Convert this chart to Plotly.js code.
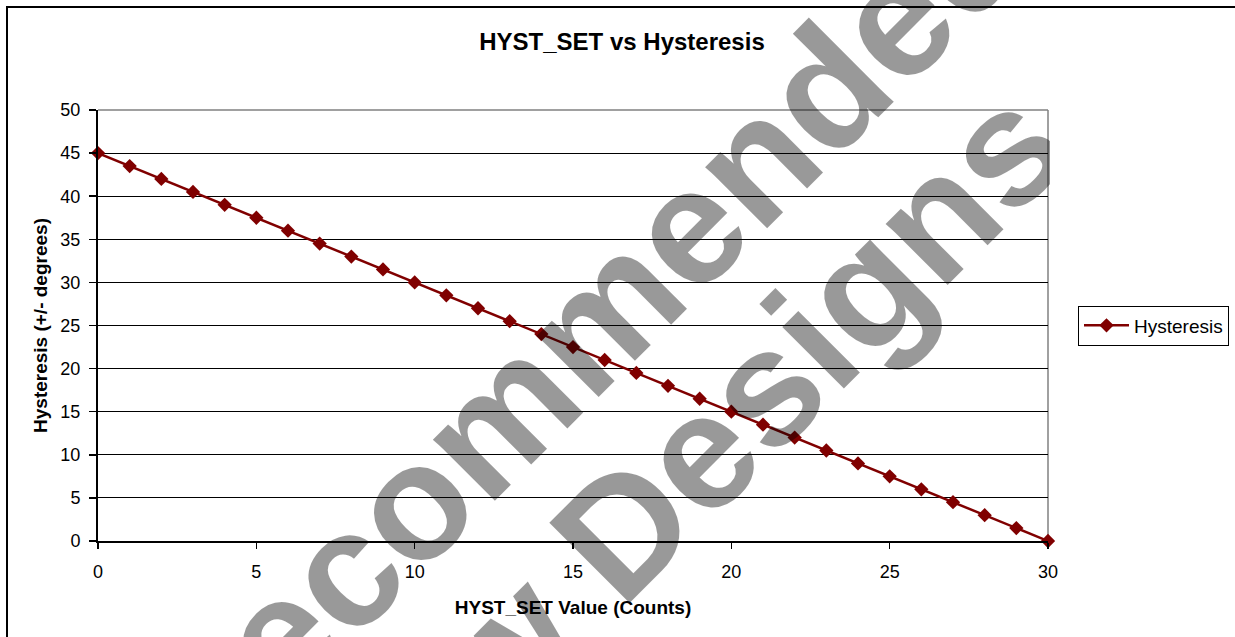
<!DOCTYPE html>
<html>
<head>
<meta charset="utf-8">
<script src="https://cdn.plot.ly/plotly-3.0.1.min.js"></script>
<style>
  html, body { margin: 0; padding: 0; background: #ffffff; }
  #chart { width: 1235px; height: 637px; }
</style>
</head>
<body>
<div id="chart"></div>
<script>
// ---- data ----
const hystSet = [0, 1, 2, 3, 4, 5, 6, 7, 8, 9, 10, 11, 12, 13, 14, 15, 16, 17, 18, 19, 20, 21, 22, 23, 24, 25, 26, 27, 28, 29, 30];
const hysteresis = [45, 43.5, 42, 40.5, 39, 37.5, 36, 34.5, 33, 31.5, 30, 28.5, 27, 25.5, 24, 22.5, 21, 19.5, 18, 16.5, 15, 13.5, 12, 10.5, 9, 7.5, 6, 4.5, 3, 1.5, 0];
const seriesName = "Hysteresis";
const chartTitle = "HYST_SET vs Hysteresis";
const xTitle = "HYST_SET Value (Counts)";
const yTitle = "Hysteresis (+/- degrees)";
const watermarkLines = ["Not Recommended", "for New Designs"];

const FONT = "Liberation Sans, Arial, Helvetica, sans-serif";
const RED = "#800000";

const trace = {
  x: hystSet,
  y: hysteresis,
  name: seriesName,
  type: "scatter",
  mode: "lines+markers",
  line: { color: RED, width: 2.5 },
  marker: { symbol: "diamond", size: 11, color: RED, line: { width: 0 } },
  cliponaxis: false,
  showlegend: true
};

const layout = {
  width: 1235,
  height: 637,
  paper_bgcolor: "#ffffff",
  plot_bgcolor: "#ffffff",
  margin: { l: 98, r: 187, t: 110, b: 96, autoexpand: false },
  font: { family: FONT, color: "#000000", size: 18 },
  title: {
    text: chartTitle,
    font: { family: FONT, size: 24, weight: "bold", color: "#000000" },
    x: 622 / 1235, xref: "container", xanchor: "center",
    y: 1 - 42 / 637, yref: "container", yanchor: "middle"
  },
  xaxis: {
    range: [0, 30],
    dtick: 5, tick0: 0,
    showgrid: false,
    zeroline: false,
    showline: true, linecolor: "#000000", linewidth: 2,
    ticks: "outside", ticklen: 6, tickwidth: 1.5, tickcolor: "#000000",
    ticklabelstandoff: 7,
    tickfont: { family: FONT, size: 18, color: "#000000" },
    title: { text: xTitle, font: { family: FONT, size: 19, weight: "bold", color: "#000000" }, standoff: 20 },
    fixedrange: true
  },
  yaxis: {
    range: [0, 50],
    dtick: 5, tick0: 0,
    showgrid: true, gridcolor: "#000000", gridwidth: 1,
    zeroline: false,
    showline: true, linecolor: "#000000", linewidth: 2,
    ticks: "outside", ticklen: 7, tickwidth: 1.5, tickcolor: "#000000",
    ticklabelstandoff: 5,
    tickfont: { family: FONT, size: 18, color: "#000000" },
    title: { text: yTitle, font: { family: FONT, size: 19, weight: "bold", color: "#000000" }, standoff: 8 },
    fixedrange: true
  },
  legend: {
    x: (1078 - 98) / 950, xanchor: "left",
    y: 0.5, yanchor: "middle",
    bgcolor: "#ffffff",
    bordercolor: "#000000", borderwidth: 1,
    itemwidth: 45,
    font: { family: FONT, size: 19, color: "#000000" }
  },
  shapes: [
    // outer chart border (top & left visible)
    { type: "rect", xref: "paper", yref: "paper",
      x0: (7 - 98) / 950, x1: (1245 - 98) / 950,
      y0: (541 - 650) / 431, y1: (541 - 7) / 431,
      line: { color: "#000000", width: 2 }, fillcolor: "rgba(0,0,0,0)", layer: "below" },
    // plot-area border, top and right (gray)
    { type: "line", xref: "paper", yref: "paper", x0: 0, x1: 1, y0: 1, y1: 1,
      line: { color: "#808080", width: 1.5 }, layer: "between" },
    { type: "line", xref: "paper", yref: "paper", x0: 1, x1: 1, y0: 0, y1: 1,
      line: { color: "#808080", width: 1.5 }, layer: "between" }
  ],
  annotations: [
    { text: watermarkLines[0], xref: "paper", yref: "paper",
      x: (466 - 98) / 950, y: (541 - 449) / 431, xanchor: "center", yanchor: "middle",
      textangle: -45, showarrow: false,
      font: { family: FONT, size: 165, weight: "bold", color: "rgba(0,0,0,0.4)" } },
    { text: watermarkLines[1], xref: "paper", yref: "paper",
      x: (578 - 98) / 950, y: (541 - 574) / 431, xanchor: "center", yanchor: "middle",
      textangle: -45, showarrow: false,
      font: { family: FONT, size: 165, weight: "bold", color: "rgba(0,0,0,0.4)" } },
    // white mask: the reference watermark stops at the plot area's right edge
    { text: " ", xref: "paper", yref: "paper",
      x: (1050 - 98) / 950, y: (541 - 95) / 431, xanchor: "left", yanchor: "top",
      width: 28, height: 110, bgcolor: "#ffffff", borderpad: 0, borderwidth: 0,
      showarrow: false, font: { size: 2, color: "#ffffff" } }
  ],
  showlegend: true,
  hovermode: false
};

Plotly.newPlot("chart", [trace], layout, { displayModeBar: false, staticPlot: true, responsive: false });
</script>
</body>
</html>
